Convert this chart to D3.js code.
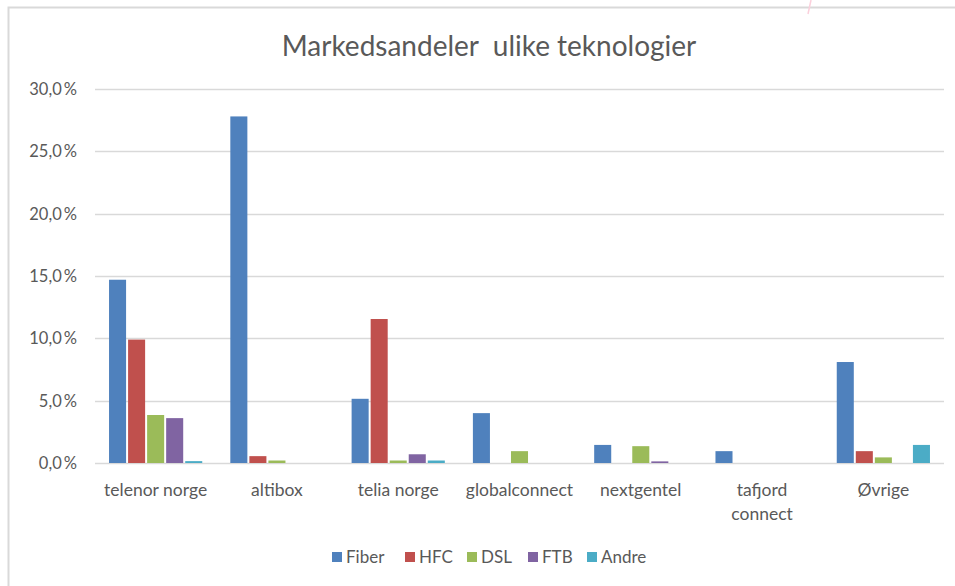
<!DOCTYPE html>
<html>
<head>
<meta charset="utf-8">
<script src="https://cdn.jsdelivr.net/npm/d3@7"></script>
<style>
  html, body { margin: 0; padding: 0; background: #fff; }
  svg { display: block; font-family: Lato, "Open Sans", sans-serif; }
</style>
</head>
<body>
<svg id="chart" width="955" height="586"></svg>
<script>
// ---------- data ----------
const categories = ['telenor norge', 'altibox', 'telia norge', 'globalconnect', 'nextgentel', 'tafjord connect', 'Øvrige'];
const seriesNames = ['Fiber', 'HFC', 'DSL', 'FTB', 'Andre'];
const seriesColors = ['#4f81bd', '#c0504d', '#9bbb59', '#8064a2', '#4bacc6'];
const fiber = [14.7, 27.8, 5.15, 4.0, 1.45, 0.95, 8.1];
const hfc   = [9.9, 0.55, 11.55, 0, 0, 0, 0.95];
const dsl   = [3.85, 0.2, 0.2, 0.95, 1.35, 0, 0.45];
const ftb   = [3.6, 0, 0.7, 0, 0.13, 0, 0];
const andre = [0.15, 0, 0.2, 0, 0, 0, 1.45];
const yTicks = [0, 5, 10, 15, 20, 25, 30];

const seriesValues = [fiber, hfc, dsl, ftb, andre];

// ---------- layout ----------
const svg = d3.select('#chart');
const W = 955, H = 586;
const plot = { left: 95, right: 944, top: 89, bottom: 463 };

// frame (chart area border)
svg.append('path')
  .attr('d', `M8.5,${H} V7.5 H${W}`)
  .attr('fill', 'none')
  .attr('stroke', '#d9d9d9')
  .attr('stroke-width', 2);

// small pink stroke at the top edge
svg.append('line')
  .attr('x1', 811).attr('y1', 0).attr('x2', 808).attr('y2', 14)
  .attr('stroke', '#fbd0dc').attr('stroke-width', 1.5);

// title (double space kept as in the original)
svg.append('text')
  .attr('x', 489).attr('y', 56)
  .attr('text-anchor', 'middle')
  .attr('fill', '#595959')
  .style('font-size', '28px')
  .text('Markedsandeler\u00a0 ulike teknologier');

// ---------- scales ----------
const x0 = d3.scaleBand()
  .domain(categories)
  .range([plot.left, plot.right])
  .paddingInner(0.215)
  .paddingOuter(0.1075);

const x1 = d3.scaleBand()
  .domain(seriesNames)
  .range([0, x0.bandwidth()]);

const y = d3.scaleLinear()
  .domain([0, 30])
  .range([plot.bottom, plot.top]);

// gridlines
svg.append('g')
  .selectAll('line')
  .data(yTicks)
  .join('line')
  .attr('x1', plot.left).attr('x2', plot.right)
  .attr('y1', d => Math.round(y(d)) + 0.5)
  .attr('y2', d => Math.round(y(d)) + 0.5)
  .attr('stroke', '#d9d9d9')
  .attr('stroke-width', 1.5);

// y axis labels
const fmt = d => d.toFixed(1).replace('.', ',') + '\u2009%';
svg.append('g')
  .selectAll('text')
  .data(yTicks)
  .join('text')
  .attr('x', 77)
  .attr('y', d => y(d) + 6)
  .attr('text-anchor', 'end')
  .attr('fill', '#595959')
  .style('font-size', '16.5px')
  .text(fmt);

// bars
const groups = svg.append('g')
  .selectAll('g')
  .data(categories)
  .join('g')
  .attr('transform', d => `translate(${x0(d)},0)`);

groups.selectAll('rect')
  .data((c, i) => seriesNames.map((s, j) => ({ s, j, v: seriesValues[j][i] })))
  .join('rect')
  .filter(d => d.v > 0)
  .attr('x', d => x1(d.s) + 1)
  .attr('width', x1.bandwidth() - 2)
  .attr('y', d => y(d.v))
  .attr('height', d => Math.max(1.5, y(0) - y(d.v)))
  .attr('fill', d => seriesColors[d.j]);

// category labels
svg.append('g')
  .selectAll('text')
  .data(categories)
  .join('text')
  .attr('x', d => x0(d) + x0.bandwidth() / 2)
  .attr('y', 496)
  .attr('text-anchor', 'middle')
  .attr('fill', '#595959')
  .style('font-size', '17.5px')
  .each(function(d) {
    const lines = d === 'tafjord connect' ? ['tafjord', 'connect'] : [d];
    d3.select(this).selectAll('tspan')
      .data(lines)
      .join('tspan')
      .attr('x', x0(d) + x0.bandwidth() / 2)
      .attr('dy', (l, k) => k === 0 ? 0 : 24)
      .text(l => l);
  });

// legend
const legendX = [332, 405, 467, 528, 587];
const legend = svg.append('g')
  .selectAll('g')
  .data(seriesNames)
  .join('g')
  .attr('transform', (d, i) => `translate(${legendX[i]},552)`);

legend.append('rect')
  .attr('width', 10).attr('height', 10)
  .attr('fill', (d, i) => seriesColors[i]);

legend.append('text')
  .attr('x', 14).attr('y', 11)
  .attr('fill', '#595959')
  .style('font-size', '17px')
  .text(d => d);
</script>
</body>
</html>
